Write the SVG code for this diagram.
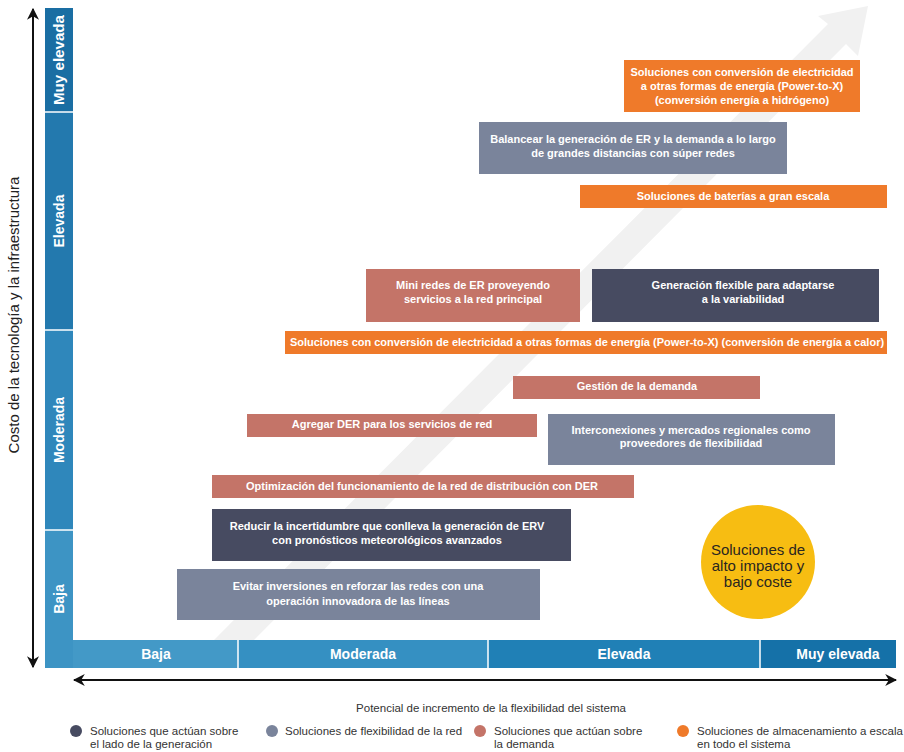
<svg xmlns="http://www.w3.org/2000/svg" width="904" height="752" viewBox="0 0 904 752">
<defs>
<style>
.bx{font-family:"Liberation Sans Narrow","Liberation Sans",Arial,sans-serif;font-weight:bold;font-size:11px;fill:#ffffff;text-anchor:middle}
.ax{font-family:"Liberation Sans Narrow","Liberation Sans",Arial,sans-serif;font-weight:bold;font-size:14px;fill:#ffffff;text-anchor:middle}
.lg{font-family:"Liberation Sans Narrow","Liberation Sans",Arial,sans-serif;font-size:11.5px;fill:#333333}
.ttl{font-family:"Liberation Sans Narrow","Liberation Sans",Arial,sans-serif;font-size:15px;fill:#222222;text-anchor:middle}
.ct{font-family:"Liberation Sans Narrow","Liberation Sans",Arial,sans-serif;font-size:15px;fill:#2a2620;text-anchor:middle}
.or{fill:#ef7a2a}.gb{fill:#7a849b}.nv{fill:#474b61}.rs{fill:#c47468}
.sep{stroke:#ffffff;stroke-width:1.5}
.axl{stroke:#111111;stroke-width:2;fill:none}
</style>
<marker id="ah" viewBox="0 0 10 10" refX="9" refY="5" markerWidth="6" markerHeight="6" orient="auto-start-reverse">
<path d="M0,0 L10,5 L0,10 L3,5 Z" fill="#111111"/>
</marker>
</defs>
<rect width="904" height="752" fill="#ffffff"/>

<g id="big-arrow">
<polygon points="868,6 858,56 846,44 254,640 214,640 828,24 818,16" fill="#f1f1f1"/>
</g>

<g id="y-axis">
<rect x="45" y="8" width="28" height="104" fill="#1a6ea3"/>
<rect x="45" y="112" width="28" height="218" fill="#2379ae"/>
<rect x="45" y="330" width="28" height="200" fill="#2f87bb"/>
<rect x="45" y="530" width="28" height="138" fill="#3d94c4"/>
<line class="sep" x1="45" y1="112" x2="73" y2="112"/>
<line class="sep" x1="45" y1="330" x2="73" y2="330"/>
<line class="sep" x1="45" y1="530" x2="73" y2="530"/>
<text class="ax" transform="translate(64,60) rotate(-90)" textLength="90" lengthAdjust="spacingAndGlyphs">Muy elevada</text>
<text class="ax" transform="translate(64,221) rotate(-90)">Elevada</text>
<text class="ax" transform="translate(64,430) rotate(-90)">Moderada</text>
<text class="ax" transform="translate(64,599) rotate(-90)">Baja</text>
</g>

<g id="x-axis">
<rect x="73" y="640" width="165" height="28" fill="#4399c7"/>
<rect x="238" y="640" width="250" height="28" fill="#3590c2"/>
<rect x="488" y="640" width="272" height="28" fill="#2080b6"/>
<rect x="760" y="640" width="136" height="28" fill="#1571a8"/>
<line class="sep" x1="238" y1="640" x2="238" y2="668"/>
<line class="sep" x1="488" y1="640" x2="488" y2="668"/>
<line class="sep" x1="760" y1="640" x2="760" y2="668"/>
<text class="ax" x="156" y="659">Baja</text>
<text class="ax" x="363" y="659">Moderada</text>
<text class="ax" x="624" y="659">Elevada</text>
<text class="ax" x="838" y="659">Muy elevada</text>
</g>

<g id="connectors">
<line class="axl" x1="33" y1="9" x2="33" y2="667" marker-start="url(#ah)" marker-end="url(#ah)"/>
<line class="axl" x1="74" y1="680" x2="896" y2="680" marker-start="url(#ah)" marker-end="url(#ah)"/>
</g>

<text class="ttl" transform="translate(19,315) rotate(-90)">Costo de la tecnología y la infraestructura</text>
<text class="lg" x="491" y="712" text-anchor="middle">Potencial de incremento de la flexibilidad del sistema</text>

<g id="n1"><rect class="or" x="624" y="60" width="236" height="52"/>
<text class="bx" x="742" y="76">Soluciones con conversión de electricidad</text>
<text class="bx" x="742" y="90">a otras formas de energía (Power-to-X)</text>
<text class="bx" x="742" y="104">(conversión energía a hidrógeno)</text></g>

<g id="n2"><rect class="gb" x="479" y="122" width="308" height="52"/>
<text class="bx" x="633" y="143">Balancear la generación de ER y la demanda a lo largo</text>
<text class="bx" x="633" y="157">de grandes distancias con súper redes</text></g>

<g id="n3"><rect class="or" x="580" y="185" width="307" height="23"/>
<text class="bx" x="733" y="200">Soluciones de baterías a gran escala</text></g>

<g id="n4"><rect class="rs" x="366" y="269" width="214" height="53"/>
<text class="bx" x="473" y="289">Mini redes de ER proveyendo</text>
<text class="bx" x="473" y="303">servicios a la red principal</text></g>

<g id="n5"><rect class="nv" x="592" y="269" width="287" height="53"/>
<text class="bx" x="743" y="289">Generación flexible para adaptarse</text>
<text class="bx" x="743" y="303">a la variabilidad</text></g>

<g id="n6"><rect class="or" x="285" y="331" width="602" height="23"/>
<text class="bx" x="587" y="346">Soluciones con conversión de electricidad a otras formas de energía (Power-to-X) (conversión de energía a calor)</text></g>

<g id="n7"><rect class="rs" x="513" y="376" width="247" height="23"/>
<text class="bx" x="637" y="390">Gestión de la demanda</text></g>

<g id="n8"><rect class="rs" x="247" y="414" width="290" height="23"/>
<text class="bx" x="392" y="428">Agregar DER para los servicios de red</text></g>

<g id="n9"><rect class="gb" x="548" y="414" width="287" height="51"/>
<text class="bx" x="691" y="434">Interconexiones y mercados regionales como</text>
<text class="bx" x="691" y="447">proveedores de flexibilidad</text></g>

<g id="n10"><rect class="rs" x="212" y="475" width="422" height="23"/>
<text class="bx" x="422" y="490">Optimización del funcionamiento de la red de distribución con DER</text></g>

<g id="n11"><rect class="nv" x="212" y="509" width="359" height="52"/>
<text class="bx" x="387" y="530">Reducir la incertidumbre que conlleva la generación de ERV</text>
<text class="bx" x="387" y="544">con pronósticos meteorológicos avanzados</text></g>

<g id="n12"><rect class="gb" x="177" y="569" width="363" height="51"/>
<text class="bx" x="358" y="590">Evitar inversiones en reforzar las redes con una</text>
<text class="bx" x="358" y="605">operación innovadora de las líneas</text></g>

<g id="n13"><circle cx="758" cy="562" r="57" fill="#f7bd12"/>
<text class="ct" x="758" y="555">Soluciones de</text>
<text class="ct" x="758" y="571">alto impacto y</text>
<text class="ct" x="758" y="587">bajo coste</text></g>

<g id="legend">
<circle cx="76" cy="731" r="6" fill="#474b61"/>
<text class="lg" x="90" y="735">Soluciones que actúan sobre</text>
<text class="lg" x="90" y="748">el lado de la generación</text>
<circle cx="272" cy="731" r="6" fill="#7a849b"/>
<text class="lg" x="285" y="735">Soluciones de flexibilidad de la red</text>
<circle cx="480" cy="731" r="6" fill="#c47468"/>
<text class="lg" x="494" y="735">Soluciones que actúan sobre</text>
<text class="lg" x="494" y="748">la demanda</text>
<circle cx="683" cy="731" r="6" fill="#ef7a2a"/>
<text class="lg" x="697" y="735">Soluciones de almacenamiento a escala</text>
<text class="lg" x="697" y="748">en todo el sistema</text>
</g>
</svg>
